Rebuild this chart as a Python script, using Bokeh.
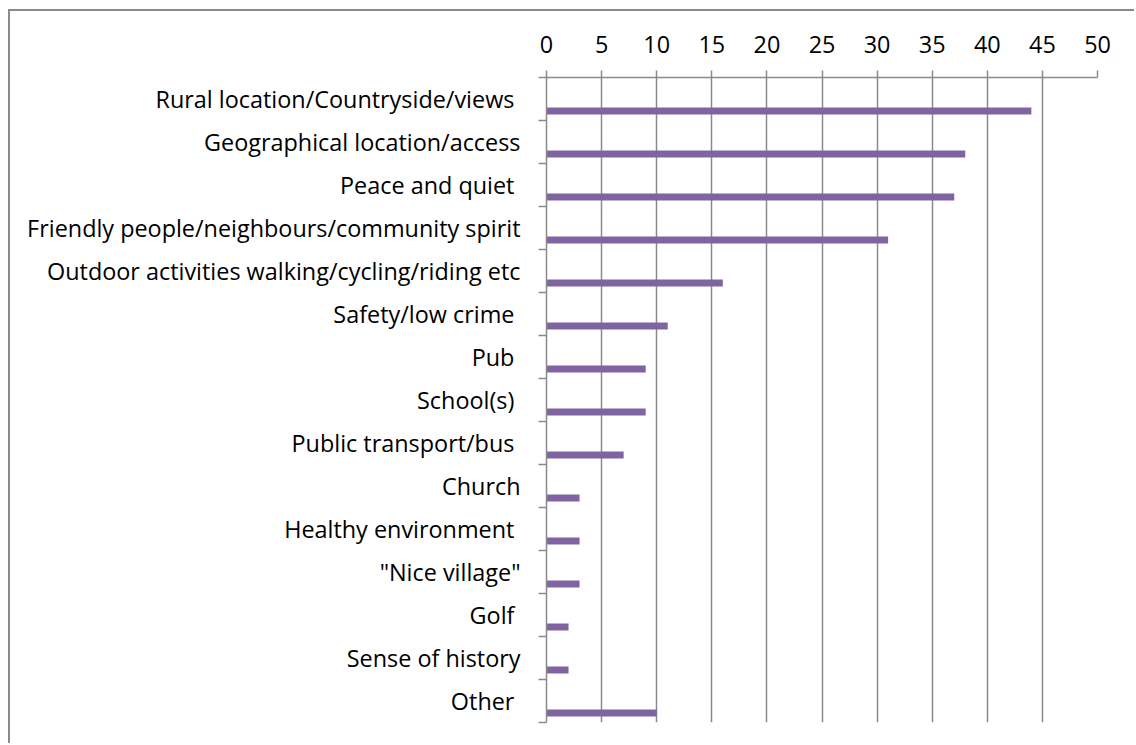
from bokeh.plotting import figure
from bokeh.models import Range1d, FixedTicker, SingleIntervalTicker, LinearAxis
from bokeh.embed import file_html
from bokeh.resources import INLINE

# Data (top to bottom as shown)
categories = [
    "Rural location/Countryside/views ",
    "Geographical location/access",
    "Peace and quiet ",
    "Friendly people/neighbours/community spirit",
    "Outdoor activities walking/cycling/riding etc",
    "Safety/low crime ",
    "Pub ",
    "School(s) ",
    "Public transport/bus ",
    "Church",
    "Healthy environment ",
    "\"Nice village\"",
    "Golf ",
    "Sense of history",
    "Other ",
]
counts = [44, 38, 37, 31, 16, 11, 9, 9, 7, 3, 3, 3, 2, 2, 10]
x_ticks_step = 5
x_max = 50

FONT = "Open Sans"
FSIZE = "23.4px"
GRAY = "#8a8a8a"
BAR = "#8064A2"

n = len(categories)
# position index from bottom (0 = bottom band)
pos = [n - 1 - i for i in range(n)]
bar_y = [p_ + 0.22 for p_ in pos]

p = figure(width=1126, height=734, output_backend="svg", toolbar_location=None,
           x_range=Range1d(0, x_max), y_range=Range1d(0, n),
           x_axis_location=None, y_axis_location=None,
           min_border_left=536, min_border_right=39, min_border_top=66, min_border_bottom=23)
p.styles = {"margin-left": "8px", "margin-top": "9px",
            "border-left": "2px solid " + GRAY, "border-top": "2px solid " + GRAY}
p.outline_line_color = None
p.background_fill_color = "white"
p.border_fill_color = "white"

p.hbar(y=bar_y, left=0, right=counts, height=0.165, fill_color=BAR, line_color=None)

# top axis
xax = LinearAxis(ticker=SingleIntervalTicker(interval=x_ticks_step, num_minor_ticks=0))
xax.axis_line_color = GRAY
xax.axis_line_width = 1.5
xax.major_tick_line_color = GRAY
xax.major_tick_line_width = 1.5
xax.major_tick_out = 7
xax.major_tick_in = 0
xax.minor_tick_line_color = None
xax.major_label_text_font = FONT
xax.major_label_text_font_size = FSIZE
xax.major_label_text_color = "black"
xax.major_label_standoff = 18
p.add_layout(xax, "above")

# left axis: labels at band centres, tick marks at band boundaries
yax = LinearAxis(ticker=FixedTicker(ticks=[q + 0.5 for q in pos],
                                    minor_ticks=list(range(n + 1))))
yax.major_label_overrides = {q + 0.5: c for q, c in zip(pos, categories)}
yax.axis_line_color = GRAY
yax.axis_line_width = 1.5
yax.major_tick_line_color = None
yax.major_tick_out = 0
yax.major_tick_in = 0
yax.minor_tick_line_color = GRAY
yax.minor_tick_line_width = 1.5
yax.minor_tick_out = 8
yax.minor_tick_in = 0
yax.major_label_text_font = FONT
yax.major_label_text_font_size = FSIZE
yax.major_label_text_color = "black"
yax.major_label_standoff = 18
p.add_layout(yax, "left")

p.xgrid.ticker = SingleIntervalTicker(interval=x_ticks_step, num_minor_ticks=0)
p.xgrid.grid_line_color = GRAY
p.xgrid.grid_line_width = 1.5
p.ygrid.grid_line_color = None

open("out.html", "w").write(file_html(p, INLINE))
